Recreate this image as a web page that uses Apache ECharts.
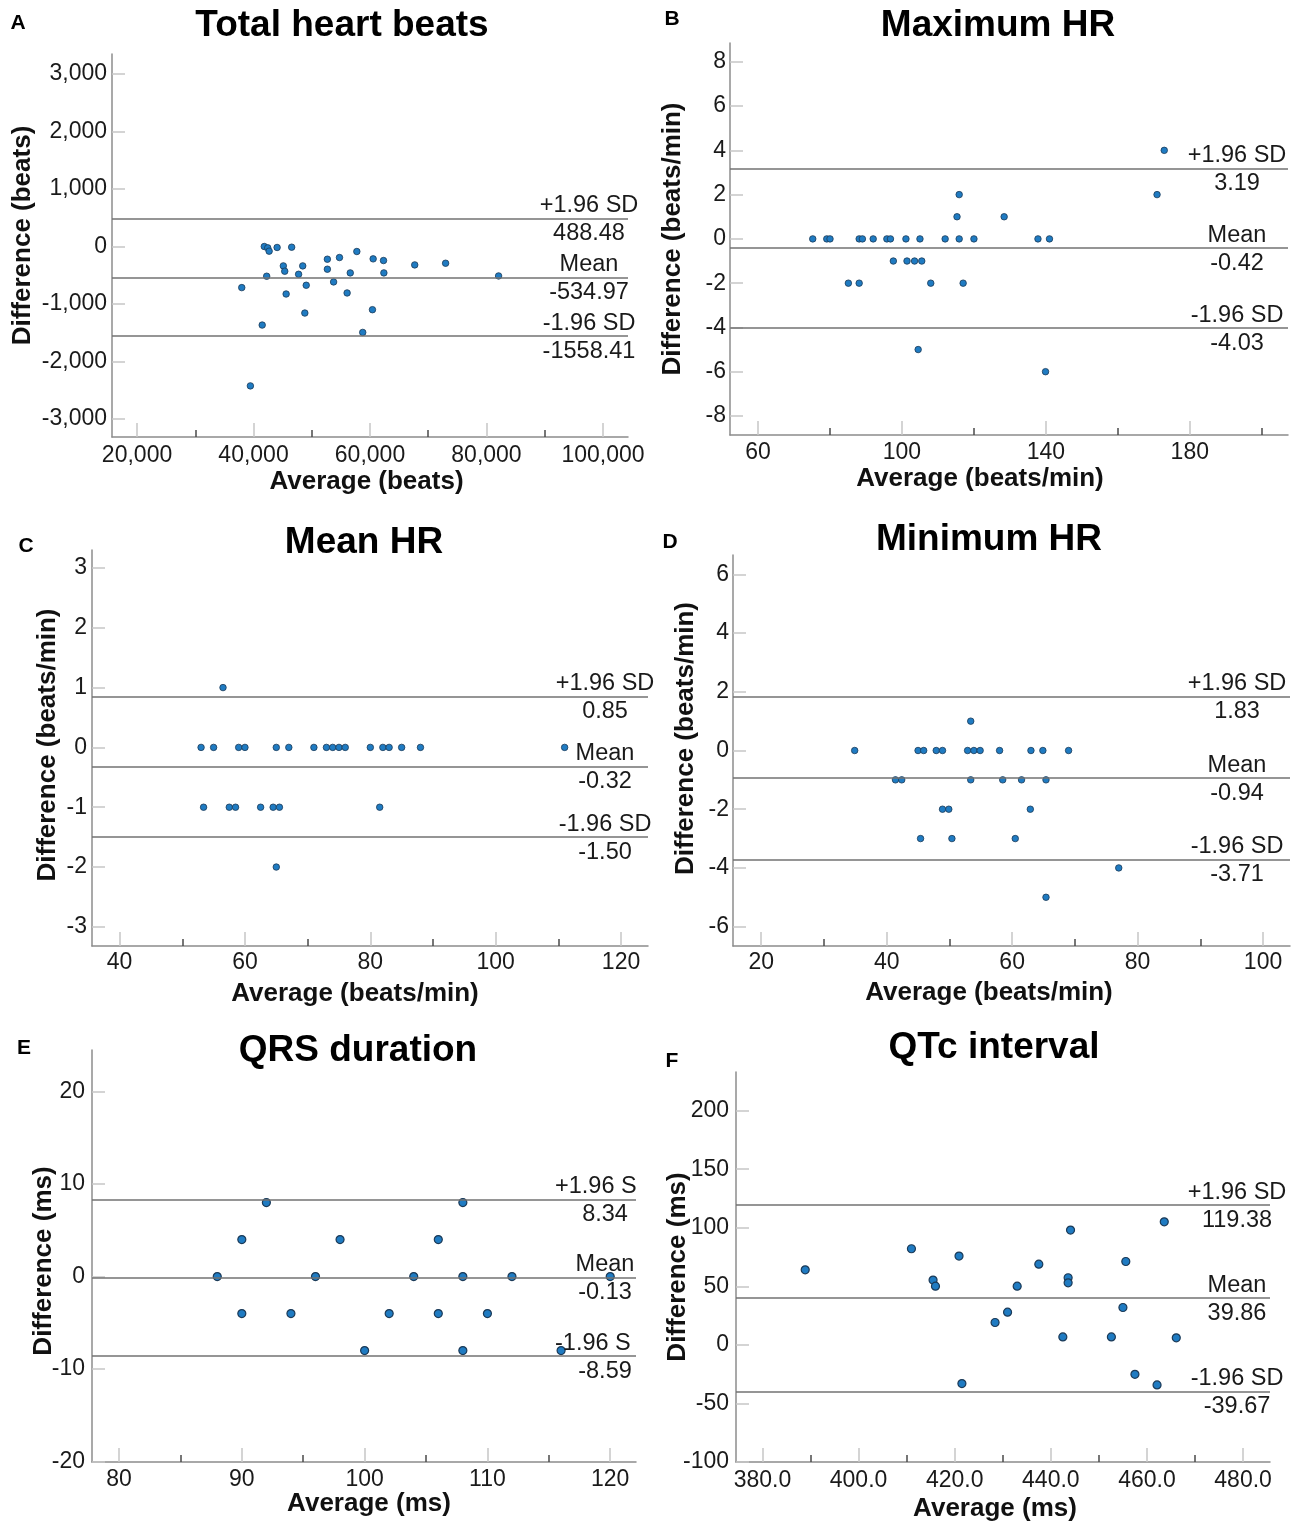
<!DOCTYPE html>
<html>
<head>
<meta charset="utf-8">
<script src="https://cdn.jsdelivr.net/npm/echarts@6.0.0/dist/echarts.min.js"></script>
<style>html,body{margin:0;padding:0;background:#fff}#c{width:1299px;height:1521px}</style>
</head>
<body>
<div id="c"></div>
<script>
// ---------------- DATA ----------------
// A: Total heart beats
const totalBeatsAvg = [41850, 42440, 42680, 44050, 46550, 45120, 48450, 45360, 47740, 42260, 37980, 45600, 49050, 48810, 41490, 39460, 52680, 52680, 54760, 57740, 53750, 56610, 56070, 60540, 62320, 62380, 60420, 58750, 67680, 72980, 82080];
const totalBeatsDiff = [0, -23, -81, -17, -12, -337, -337, -430, -483, -517, -715, -826, -674, -1157, -1366, -2424, -221, -395, -192, -87, -616, -459, -808, -215, -244, -459, -1099, -1494, -320, -291, -512];
const totalBeatsLimits = [488.48, -534.97, -1558.41];
const totalBeatsXTicks = [20000, 40000, 60000, 80000, 100000];
const totalBeatsXMinor = [30000, 50000, 70000, 90000];
const totalBeatsYTicks = [-3000, -2000, -1000, 0, 1000, 2000, 3000];

// B: Maximum HR
const maxHrAvg = [75.2, 79.1, 80.0, 88.1, 89.0, 92.0, 95.8, 96.8, 101.1, 105.0, 112.0, 115.9, 120.0, 137.8, 141.0, 97.6, 101.4, 103.5, 105.5, 85.1, 88.1, 108.0, 117.0, 115.3, 128.4, 115.9, 170.9, 172.9, 104.5, 139.9];
const maxHrDiff = [0, 0, 0, 0, 0, 0, 0, 0, 0, 0, 0, 0, 0, 0, 0, -1, -1, -1, -1, -2, -2, -2, -2, 1, 1, 2, 2, 4, -5, -6];
const maxHrLimits = [3.19, -0.42, -4.03];
const maxHrXTicks = [60, 100, 140, 180];
const maxHrXMinor = [80, 120, 160, 200];
const maxHrYTicks = [-8, -6, -4, -2, 0, 2, 4, 6, 8];

// C: Mean HR
const meanHrAvg = [53.0, 55.0, 59.0, 60.0, 65.0, 67.0, 71.0, 73.0, 74.0, 75.0, 76.0, 80.0, 82.0, 83.0, 85.0, 88.0, 111.0, 53.4, 57.5, 58.5, 62.5, 64.5, 65.5, 81.5, 56.5, 65.0];
const meanHrDiff = [0, 0, 0, 0, 0, 0, 0, 0, 0, 0, 0, 0, 0, 0, 0, 0, 0, -1, -1, -1, -1, -1, -1, -1, 1, -2];
const meanHrLimits = [0.85, -0.32, -1.50];
const meanHrXTicks = [40, 60, 80, 100, 120];
const meanHrXMinor = [50, 70, 90, 110];
const meanHrYTicks = [-3, -2, -1, 0, 1, 2, 3];

// D: Minimum HR
const minHrAvg = [34.9, 45.0, 45.9, 47.9, 48.9, 52.9, 53.9, 54.9, 58.0, 63.0, 64.9, 69.0, 41.4, 42.4, 53.4, 58.5, 61.5, 65.4, 53.4, 48.9, 49.9, 62.9, 45.4, 50.4, 60.5, 77.0, 65.4];
const minHrDiff = [0, 0, 0, 0, 0, 0, 0, 0, 0, 0, 0, 0, -1, -1, -1, -1, -1, -1, 1, -2, -2, -2, -3, -3, -3, -4, -5];
const minHrLimits = [1.83, -0.94, -3.71];
const minHrXTicks = [20, 40, 60, 80, 100];
const minHrXMinor = [30, 50, 70, 90];
const minHrYTicks = [-6, -4, -2, 0, 2, 4, 6];

// E: QRS duration
const qrsAvg = [88, 96, 104, 108, 112, 120, 92, 108, 90, 98, 106, 90, 94, 102, 106, 110, 100, 108, 116];
const qrsDiff = [0, 0, 0, 0, 0, 0, 8, 8, 4, 4, 4, -4, -4, -4, -4, -4, -8, -8, -8];
const qrsLimits = [8.34, -0.13, -8.59];
const qrsXTicks = [80, 90, 100, 110, 120];
const qrsXMinor = [85, 95, 105, 115];
const qrsYTicks = [-20, -10, 0, 10, 20];

// F: QTc interval
const qtcAvg = [388.9, 411.0, 415.5, 416.0, 420.9, 421.5, 428.4, 431.0, 433.0, 437.5, 442.5, 443.6, 443.6, 444.1, 452.6, 455.0, 455.6, 457.5, 462.1, 463.6, 466.1];
const qtcDiff = [64.1, 82.1, 55.3, 50.1, 75.8, -33.0, 19.1, 27.9, 50.1, 68.9, 6.8, 57.3, 53.0, 98.0, 6.8, 31.9, 71.2, -25.1, -34.2, 105.1, 6.0];
const qtcLimits = [119.38, 39.86, -39.67];
const qtcXTicks = [380, 400, 420, 440, 460, 480];
const qtcXMinor = [390, 410, 430, 450, 470];
const qtcYTicks = [-100, -50, 0, 50, 100, 150, 200];

const panelLetters = ['A', 'B', 'C', 'D', 'E', 'F'];
const panelTitles = ['Total heart beats', 'Maximum HR', 'Mean HR', 'Minimum HR', 'QRS duration', 'QTc interval'];
const xNames = ['Average (beats)', 'Average (beats/min)', 'Average (beats/min)', 'Average (beats/min)', 'Average (ms)', 'Average (ms)'];
const yNames = ['Difference (beats)', 'Difference (beats/min)', 'Difference (beats/min)', 'Difference (beats/min)', 'Difference (ms)', 'Difference (ms)'];
const limitNames = ['+1.96 SD', 'Mean', '-1.96 SD'];
// in panel E the limit names are cut off by the plot's right edge
const limitNamesClipped = ['+1.96 S', 'Mean', '-1.96 S'];

// ---------------- LAYOUT / STYLE ----------------
const FONT = '"Liberation Sans", Arial, Helvetica, sans-serif';
const TXT = '#1a1a1a';
const TICK_FS = 23, LABEL_FS = 23.5, NAME_FS = 26, TITLE_FS = 37, LETTER_FS = 21;
const comma = v => Math.round(v).toLocaleString('en-US');
const plain = v => String(v);
const oneDec = v => v.toFixed(1);

const PANELS = [
  {avg: totalBeatsAvg, diff: totalBeatsDiff, limits: totalBeatsLimits, xMajor: totalBeatsXTicks, xMinor: totalBeatsXMinor, yTicks: totalBeatsYTicks,
   xFmt: comma, yFmt: comma, grid: {left: 112, top: 54, width: 516, height: 383}, x: [15700, 104300], y: [-3313, 3348],
   title: [342, 26], letter: [18, 23], yGap: 76, yPad: [0, 0, 0, 20], xGap: 32, xPad: [0, 7, 0, 0], xMargin: 7, yMargin: 5, inset: 39, size: 6.5, bw: 0.8},
  {avg: maxHrAvg, diff: maxHrDiff, limits: maxHrLimits, xMajor: maxHrXTicks, xMinor: maxHrXMinor, yTicks: maxHrYTicks,
   xFmt: plain, yFmt: plain, grid: {left: 730, top: 43, width: 558, height: 392}, x: [52.2, 207.3], y: [-8.86, 8.85],
   title: [998, 26], letter: [672, 19], yGap: 44, yPad: [0, 0, 0, 0], xGap: 31, xPad: [0, 58, 0, 0], xMargin: 6, yMargin: 4, inset: 51, size: 6.5, bw: 0.8},
  {avg: meanHrAvg, diff: meanHrDiff, limits: meanHrLimits, xMajor: meanHrXTicks, xMinor: meanHrXMinor, yTicks: meanHrYTicks,
   xFmt: plain, yFmt: plain, grid: {left: 92, top: 550, width: 556, height: 396}, x: [35.6, 124.3], y: [-3.32, 3.30],
   title: [364, 543], letter: [26, 546], yGap: 31, yPad: [0, 0, 0, 6], xGap: 35, xPad: [0, 30, 0, 0], xMargin: 5, yMargin: 5, inset: 43, size: 6.5, bw: 0.8},
  {avg: minHrAvg, diff: minHrDiff, limits: minHrLimits, xMajor: minHrXTicks, xMinor: minHrXMinor, yTicks: minHrYTicks,
   xFmt: plain, yFmt: plain, grid: {left: 733, top: 555, width: 557, height: 391}, x: [15.5, 104.3], y: [-6.66, 6.66],
   title: [989, 540], letter: [670, 542], yGap: 34, yPad: [0, 0, 0, 24], xGap: 34, xPad: [0, 45, 0, 0], xMargin: 5, yMargin: 4, inset: 53, size: 6.5, bw: 0.8},
  {avg: qrsAvg, diff: qrsDiff, limits: qrsLimits, xMajor: qrsXTicks, xMinor: qrsXMinor, yTicks: qrsYTicks,
   xFmt: plain, yFmt: plain, grid: {left: 92, top: 1050, width: 544, height: 412}, x: [77.8, 122.1], y: [-20.05, 24.5],
   title: [358, 1051], letter: [24, 1048], yGap: 35, yPad: [0, 10, 0, 0], xGap: 29, xPad: [0, 0, 0, 10], xMargin: 6, yMargin: 7, inset: 31, size: 8, bw: 1.2, clip: true},
  {avg: qtcAvg, diff: qtcDiff, limits: qtcLimits, xMajor: qtcXTicks, xMinor: qtcXMinor, yTicks: qtcYTicks,
   xFmt: oneDec, yFmt: plain, grid: {left: 736, top: 1072, width: 534, height: 390}, x: [374.5, 485.6], y: [-100, 233],
   title: [994, 1048], letter: [672, 1061], yGap: 45, yPad: [0, 0, 0, 0], xGap: 34, xPad: [0, 16, 0, 0], xMargin: 7, yMargin: 7, inset: 33, size: 8, bw: 1.2}
];

const grids = [], xAxes = [], yAxes = [], series = [], titles = [];
const AXIS_LINE = {show: true, onZero: false, lineStyle: {color: '#8c8c8c', width: 1.5}};

PANELS.forEach((p, i) => {
  grids.push(Object.assign({outerBoundsMode: 'none', containLabel: false}, p.grid));
  xAxes.push({
    type: 'value', gridIndex: i, min: p.x[0], max: p.x[1], position: 'bottom',
    axisLine: AXIS_LINE,
    axisTick: {show: true, inside: true, length: 14, customValues: p.xMajor, lineStyle: {color: '#c6c6c6', width: 1.5}},
    axisLabel: {customValues: p.xMajor, formatter: p.xFmt, fontSize: TICK_FS, color: TXT, fontFamily: FONT, margin: p.xMargin},
    splitLine: {show: false},
    name: xNames[i], nameLocation: 'middle', nameGap: p.xGap, nameMoveOverlap: false,
    nameTextStyle: {fontSize: NAME_FS, fontWeight: 'bold', color: '#111', fontFamily: FONT, padding: p.xPad}
  });
  yAxes.push({
    type: 'value', gridIndex: i, min: p.y[0], max: p.y[1], position: 'left',
    axisLine: AXIS_LINE,
    axisTick: {show: true, inside: true, length: 13, customValues: p.yTicks, lineStyle: {color: '#c6c6c6', width: 1.5}},
    axisLabel: {customValues: p.yTicks, formatter: p.yFmt, fontSize: TICK_FS, color: TXT, fontFamily: FONT, margin: p.yMargin},
    splitLine: {show: false},
    name: yNames[i], nameLocation: 'middle', nameGap: p.yGap, nameMoveOverlap: false,
    nameTextStyle: {fontSize: NAME_FS, fontWeight: 'bold', color: '#111', fontFamily: FONT, padding: p.yPad}
  });
  // reference lines (mean and limits of agreement)
  series.push({
    type: 'scatter', xAxisIndex: i, yAxisIndex: i, data: [], z: 1, silent: true,
    markLine: {
      silent: true, symbol: ['none', 'none'], animation: false,
      lineStyle: {color: '#727272', width: 1.5, type: 'solid'},
      label: {show: false},
      data: p.limits.map(v => ({yAxis: v}))
    }
  });
  series.push({
    type: 'scatter', xAxisIndex: i, yAxisIndex: i, z: 3, symbolSize: p.size,
    itemStyle: {color: '#1f7bc2', borderColor: '#1c3a57', borderWidth: p.bw, opacity: 1},
    data: p.avg.map((a, k) => [a, p.diff[k]])
  });
  titles.push({text: panelTitles[i], left: p.title[0], top: p.title[1], textAlign: 'center', textVerticalAlign: 'middle', padding: 0,
    textStyle: {fontSize: TITLE_FS, fontWeight: 'bold', color: '#000', fontFamily: FONT}});
  titles.push({text: panelLetters[i], left: p.letter[0], top: p.letter[1], textAlign: 'center', textVerticalAlign: 'middle', padding: 0,
    textStyle: {fontSize: LETTER_FS, fontWeight: 'bold', color: '#000', fontFamily: FONT}});
});

// overlay grids carrying the short dark minor ticks on the x axes
PANELS.forEach((p, i) => {
  const gi = PANELS.length + i;
  grids.push(Object.assign({outerBoundsMode: 'none', containLabel: false}, p.grid));
  xAxes.push({
    type: 'value', gridIndex: gi, min: p.x[0], max: p.x[1], position: 'bottom',
    axisLine: {show: false, onZero: false},
    axisTick: {show: true, inside: true, length: 7, customValues: p.xMinor, lineStyle: {color: '#4a4a4a', width: 1.5}},
    axisLabel: {show: false}, splitLine: {show: false}
  });
  yAxes.push({type: 'value', gridIndex: gi, min: 0, max: 1, show: false});
});

const chart = echarts.init(document.getElementById('c'), null, {renderer: 'canvas'});
chart.setOption({
  backgroundColor: '#ffffff',
  animation: false,
  title: titles,
  grid: grids,
  xAxis: xAxes,
  yAxis: yAxes,
  series: series
});

// text labels of the reference lines, positioned with the chart's own scales
const labelItems = [];
PANELS.forEach((p, i) => {
  const right = p.grid.left + p.grid.width;
  const cx = right - p.inset;
  p.limits.forEach((v, k) => {
    const py = chart.convertToPixel({gridIndex: i}, [p.x[0], v])[1];
    const top = {type: 'text', x: cx, y: py - 13, silent: true, z: 10,
      style: {text: limitNames[k], fontSize: LABEL_FS, fontFamily: FONT, fill: TXT, align: 'center', verticalAlign: 'middle'}};
    if (p.clip && k !== 1) {
      top.x = cx - 50;
      top.style.align = 'left';
      top.style.text = limitNamesClipped[k];
    }
    labelItems.push(top);
    labelItems.push({type: 'text', x: cx, y: py + 15, silent: true, z: 10,
      style: {text: v.toFixed(2), fontSize: LABEL_FS, fontFamily: FONT, fill: TXT, align: 'center', verticalAlign: 'middle'}});
  });
});
chart.setOption({graphic: labelItems});
</script>
</body>
</html>
